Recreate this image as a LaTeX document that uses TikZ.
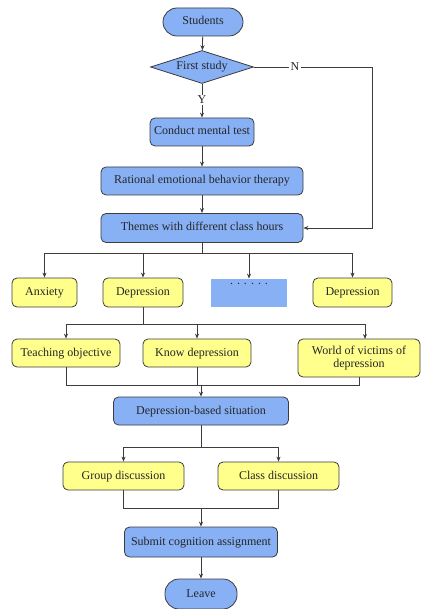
\documentclass[tikz,border=0pt]{standalone}
\usepackage{fontspec}
\setmainfont{Liberation Serif}
\usetikzlibrary{arrows.meta,shapes.geometric}
\definecolor{boxblue}{RGB}{135,176,245}
\definecolor{boxyellow}{RGB}{255,255,140}
\definecolor{edge}{RGB}{60,60,60}
\begin{document}
\begin{tikzpicture}[x=1pt,y=-1pt,
  txt/.style={font=\fontsize{12}{13.5}\selectfont,text=black!85},
  base/.style={txt,draw=edge,line width=0.8pt,inner sep=0pt,text height=8.5pt,text depth=2.5pt},
  bluebox/.style={base,fill=boxblue,rounded corners=5pt},
  yellowbox/.style={base,fill=boxyellow,rounded corners=5pt},
  terminal/.style={base,fill=boxblue,rounded corners=14pt},
  decision/.style={base,fill=boxblue,diamond,aspect=3.1},
  link/.style={draw=edge,line width=0.8pt,-{Stealth[length=5pt,width=4pt]}},
  wire/.style={draw=edge,line width=0.8pt}]
\useasboundingbox (0,0) rectangle (424,609);

% main column
\node[terminal,minimum width=80pt,minimum height=28pt] (start) at (203,22) {Students};
\node[decision,minimum width=103pt,minimum height=33pt] (first) at (202,67) {First study};
\node[bluebox,minimum width=104pt,minimum height=28pt] (test) at (202,132) {Conduct mental test};
\node[bluebox,minimum width=202pt,minimum height=28pt] (rebt) at (202,181) {Rational emotional behavior therapy};
\node[bluebox,minimum width=202pt,minimum height=29pt] (themes) at (202,228) {Themes with different class hours};

% themes
\node[yellowbox,minimum width=65pt,minimum height=29pt] (anx) at (44.5,292.5) {Anxiety};
\node[yellowbox,minimum width=80pt,minimum height=29pt] (dep1) at (143,292.5) {Depression};
\node[base,draw=none,fill=boxblue,minimum width=76pt,minimum height=28pt] (more) at (249,293) {};
\node[txt] (dots) at (249,284) {.\,\,.\,\,.\,\,.\,\,.\,\,.};
\node[yellowbox,minimum width=79pt,minimum height=29pt] (dep2) at (352.5,292.5) {Depression};

% depression sub-topics
\node[yellowbox,minimum width=108pt,minimum height=28pt] (obj) at (66,353) {Teaching objective};
\node[yellowbox,minimum width=108pt,minimum height=28pt] (know) at (197,353) {Know depression};
\node[yellowbox,text height=,text depth=,minimum width=122pt,minimum height=38pt,align=center] (world) at (359,358) {World of victims of\\depression};

\node[bluebox,minimum width=175pt,minimum height=28pt] (situ) at (201,411) {Depression-based situation};
\node[yellowbox,minimum width=121pt,minimum height=28pt] (group) at (123.5,476) {Group discussion};
\node[yellowbox,minimum width=121pt,minimum height=28pt] (class) at (278.5,476) {Class discussion};
\node[bluebox,minimum width=153pt,minimum height=30pt] (submit) at (201,542) {Submit cognition assignment};
\node[terminal,minimum width=72pt,minimum height=30pt] (leave) at (201,594) {Leave};

% decision labels
\node[txt,inner sep=1pt] (ylab) at (202,100) {Y};
\node[txt,fill=white,inner sep=1pt] (nlab) at (295,67) {N};

% connectors
\draw[link] (start) -- (first);
\draw[wire] (first.south) -- (ylab.north);
\draw[link] (ylab.south) -- (test.north);
\coordinate (nturn) at (372,67);
\coordinate (nback) at (372,228);
\draw[wire] (first.east) -- (nlab.west);
\draw[link] (nlab.east) -- (nturn) -- (nback) -- (themes.east);
\draw[link] (test) -- (rebt);
\draw[link] (rebt) -- (themes);

\coordinate (split1) at (202,253);
\draw[wire] (themes.south) -- (split1);
\draw[wire] (44.5,253) -- (352.5,253);
\draw[link] (44.5,253) -- (anx.north);
\draw[link] (143,253) -- (dep1.north);
\draw[link] (249,253) -- (more.north);
\draw[link] (352.5,253) -- (dep2.north);

\draw[wire] (dep1.south) -- (143,324);
\draw[wire] (66,324) -- (365,324);
\draw[link] (66,324) -- (obj.north);
\draw[link] (197,324) -- (know.north);
\draw[link] (365,324) -- (365,339);

\draw[wire] (obj.south) -- (66,385) -- (359,385) -- (world.south);
\draw[wire] (know.south) -- (197,385);
\draw[link] (201,385) -- (situ.north);

\draw[wire] (situ.south) -- (201,447);
\draw[wire] (123.5,447) -- (278.5,447);
\draw[link] (123.5,447) -- (group.north);
\draw[link] (278.5,447) -- (class.north);

\draw[wire] (group.south) -- (123.5,508) -- (278.5,508) -- (class.south);
\draw[link] (201,508) -- (submit.north);
\draw[link] (submit) -- (leave);
\end{tikzpicture}
\end{document}
